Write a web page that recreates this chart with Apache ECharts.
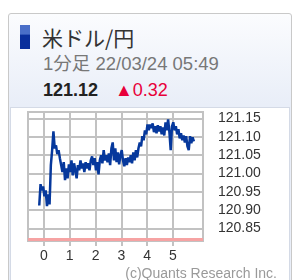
<!DOCTYPE html>
<html>
<head>
<meta charset="utf-8">
<script src="https://cdn.jsdelivr.net/npm/echarts@6/dist/echarts.min.js"></script>
<style>
  html, body { margin: 0; padding: 0; width: 292px; height: 280px; overflow: hidden; background: #fff; }
  body { font-family: "Liberation Sans", "Noto Sans CJK JP", sans-serif; position: relative; }
  .panel {
    position: absolute; left: 8px; top: 13px; width: 282px; height: 280px;
    border: 1px solid #c9c9c9; border-radius: 3px;
    background: linear-gradient(#fbfcfe 0%, #e9eef8 90px);
  }
  .inner {
    position: absolute; left: 10px; top: 107px; width: 278px; height: 180px;
    border: 1px solid #d4dae6; background: #fff;
  }
  .mark {
    position: absolute; left: 20px; top: 25px; width: 10px; height: 24px;
    background: linear-gradient(#4a6fc8 0%, #4a6fc8 38%, #0a2f9c 42%, #0a2f9c 100%);
  }
  .title { position: absolute; left: 42px; top: 24px; font-size: 21px; line-height: 26px; color: #333; font-family: "Noto Sans CJK JP", sans-serif; }
  .sub { position: absolute; left: 43px; top: 53px; font-size: 18.5px; line-height: 22px; color: #777; }
  .price { position: absolute; left: 43px; top: 79px; font-size: 18px; line-height: 22px; color: #222; font-weight: bold; }
  .chg { position: absolute; left: 115px; top: 79px; font-size: 18px; line-height: 22px; color: #e8003a; }
  .copy { position: absolute; right: 15px; top: 264px; font-size: 14px; line-height: 18px; color: #999; }
  #main { position: absolute; left: 0; top: 0; width: 292px; height: 280px; }
</style>
</head>
<body>
  <div class="panel"></div>
  <div class="inner"></div>
  <div class="mark"></div>
  <div class="title">米ドル/円</div>
  <div class="sub">1分足 22/03/24 05:49</div>
  <div class="price">121.12</div>
  <div class="chg">▲0.32</div>
  <div id="main"></div>
  <div class="copy">(c)Quants Research Inc.</div>

<script>
// 1分足 (3分ごとに読み取り) 開始は 0時の11分前
const startMinute = -11;
const stepMinute = 3;
const prices = [
  120.913, 120.971, 120.954, 120.965, 120.938, 120.954, 120.911, 120.943, 120.916, 121.023,
  121.064, 121.115, 121.069, 121.077, 121.053, 121.064, 121.042, 121.023, 121.004, 121.031,
  120.982, 121.014, 120.987, 121.025, 121.004, 121.036, 120.995, 121.028, 121.009, 120.987,
  121.023, 121.009, 121.036, 121.014, 121.028, 121.004, 121.031, 121.014, 121.028, 121.009,
  121.036, 121.047, 121.023, 121.042, 121.009, 121.031, 120.998, 121.036, 121.050, 121.028,
  121.064, 121.036, 121.050, 121.031, 121.055, 121.023, 121.069, 121.085, 121.036, 121.069,
  121.031, 121.058, 121.025, 121.050, 121.064, 121.036, 121.020, 121.042, 121.023, 121.044,
  121.031, 121.050, 121.028, 121.058, 121.036, 121.064, 121.044, 121.069, 121.085, 121.074,
  121.102, 121.091, 121.118, 121.107, 121.134, 121.118, 121.134, 121.124, 121.137, 121.113,
  121.129, 121.110, 121.132, 121.115, 121.129, 121.107, 121.126, 121.104, 121.140, 121.118,
  121.148, 121.113, 121.064, 121.129, 121.140, 121.118, 121.129, 121.107, 121.121, 121.096,
  121.110, 121.091, 121.104, 121.085, 121.102, 121.074, 121.064, 121.102, 121.083, 121.099,
  121.088
];
const hourTicks = [0, 1, 2, 3, 4, 5];
const priceTicks = [120.85, 120.90, 120.95, 121.00, 121.05, 121.10, 121.15];
const baseLine = 120.82; // 赤線

const seriesData = prices.map((p, i) => [(startMinute + i * stepMinute) / 60, p]);

const myChart = echarts.init(document.getElementById('main'), null, { renderer: 'canvas' });
const gridColor = '#c2c2c2';

const option = {
  animation: false,
  grid: {
    left: 28, top: 112, right: 89, bottom: 39,
    show: true, borderColor: gridColor, borderWidth: 2, backgroundColor: '#fff'
  },
  xAxis: {
    type: 'value',
    min: -0.62,
    max: 6.17,
    axisLine: { show: false },
    axisTick: { show: true, length: 5, customValues: hourTicks, lineStyle: { color: gridColor, width: 2 } },
    axisLabel: {
      customValues: hourTicks, margin: 8,
      color: '#333', fontSize: 14, fontFamily: 'Liberation Sans'
    },
    splitLine: { show: true, lineStyle: { color: gridColor, width: 2 } }
  },
  yAxis: {
    type: 'value',
    position: 'right',
    min: 120.816,
    max: 121.168,
    axisLine: { show: false },
    axisTick: { show: true, length: 9, customValues: priceTicks, lineStyle: { color: gridColor, width: 2 } },
    axisLabel: {
      customValues: priceTicks, margin: 15,
      formatter: v => v.toFixed(2),
      color: '#333', fontSize: 14, fontFamily: 'Liberation Sans'
    },
    splitLine: { show: true, lineStyle: { color: gridColor, width: 2 } }
  },
  series: [{
    type: 'line',
    data: seriesData,
    showSymbol: false,
    lineStyle: { color: '#06389c', width: 2.5 },
    markLine: {
      silent: true,
      symbol: 'none',
      label: { show: false },
      lineStyle: { color: '#f6a3a3', width: 3, type: 'solid' },
      data: [{ yAxis: baseLine }]
    }
  }]
};

myChart.setOption(option);
</script>
</body>
</html>
